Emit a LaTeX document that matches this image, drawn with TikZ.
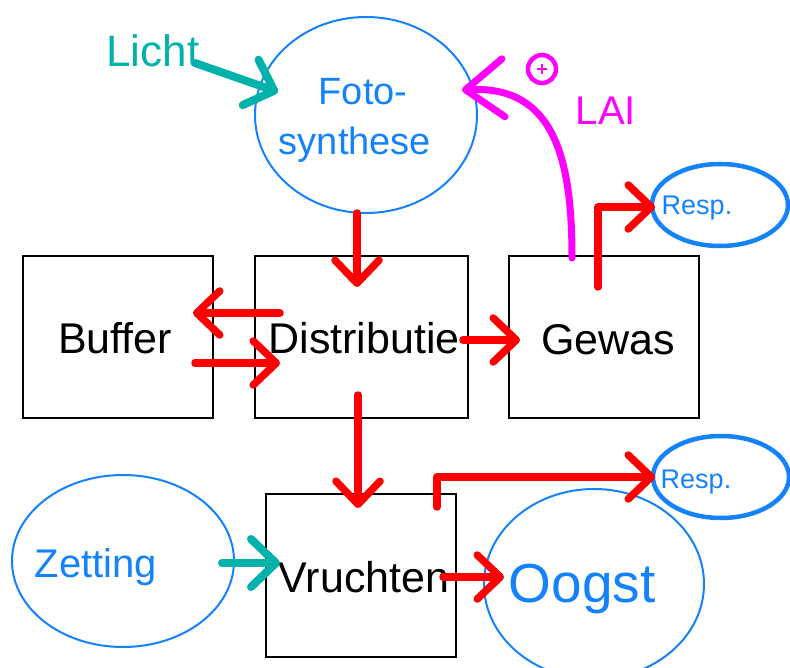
\documentclass[tikz,border=0pt]{standalone}
\usepackage{fontspec}
\setmainfont{Liberation Sans}
\usetikzlibrary{arrows.meta,shapes.geometric}
\definecolor{skyblue}{RGB}{20,130,250}
\definecolor{tealc}{RGB}{0,178,170}
\definecolor{flowred}{RGB}{255,0,0}
\definecolor{laic}{RGB}{255,0,255}
\tikzset{
  blk/.style={draw=black, line width=2pt, minimum height=162pt, inner sep=0pt},
  oval/.style={draw=skyblue, ellipse, line width=2pt, inner sep=0pt},
  respoval/.style={oval, line width=4.5pt, minimum width=136pt, minimum height=82pt},
  lbl/.style={anchor=base, inner sep=0pt, font=\fontsize{43}{48}\selectfont},
  bluelbl/.style={lbl, text=skyblue},
  flow/.style={draw=flowred, line width=7.5pt, line cap=round, line join=round,
    -{Straight Barb[length=23pt,width=44pt,line cap=round,line join=round]}},
  tealflow/.style={draw=tealc, line width=8pt, line cap=round, line join=round,
    -{Straight Barb[length=25pt,width=48pt,line cap=round,line join=round]}},
  laiflow/.style={draw=laic, line width=7pt, line cap=round, line join=round,
    -{Straight Barb[length=38pt,width=58pt,line cap=round,line join=round]}},
}
\begin{document}
\begin{tikzpicture}[x=1pt,y=-1pt]
\useasboundingbox (0,0) rectangle (790,668);

% compartments
\node[blk, minimum width=190pt] (buffer) at (118,337) {};
\node[blk, minimum width=213pt] (dist)   at (361.5,337) {};
\node[blk, minimum width=190pt] (gewas)  at (604,337) {};
\node[blk, minimum width=190pt, minimum height=163pt] (vrucht) at (361,575) {};

% process ovals
\node[oval, minimum width=222pt, minimum height=196pt] (foto) at (366,115) {};
\node[oval, minimum width=222pt, minimum height=172pt] (zet)  at (123,561) {};
\node[oval, minimum width=220pt, minimum height=190pt] (oogst) at (594,584) {};
\node[respoval] (resptop) at (720,205) {};
\node[respoval] (resplow) at (721,477) {};

% labels
\node[lbl] (tbuffer) at (115,353) {Buffer};
\node[lbl] (tdist)   at (364,353) {Distributie};
\node[lbl] (tgewas)  at (608,355) {Gewas};
\node[lbl] (tvrucht) at (364,592) {Vruchten};
\node[bluelbl, font=\fontsize{40}{44}\selectfont] (tzet) at (96,577) {Zetting};
\node[bluelbl, font=\fontsize{55}{60}\selectfont] (toogst) at (582,602) {Oogst};
\node[bluelbl, font=\fontsize{38}{42}\selectfont] (tfoto1) at (363,105) {Foto-};
\node[bluelbl, font=\fontsize{38}{42}\selectfont] (tfoto2) at (355,155) {synthese};
\node[bluelbl, font=\fontsize{27}{30}\selectfont] (tresp1) at (697,215) {Resp.};
\node[bluelbl, font=\fontsize{27}{30}\selectfont] (tresp2) at (696,488) {Resp.};
\node[lbl, text=tealc, font=\fontsize{44}{48}\selectfont] (licht) at (153,67) {Licht};
\node[lbl, text=laic, font=\fontsize{40}{44}\selectfont] (lai) at (606,125) {LAI};

% positive influence marker
\node[circle, draw=laic, line width=4.5pt, minimum size=28pt, inner sep=0pt] (plus) at (542,69) {};
\draw[laic, line width=1.5pt] ([xshift=-5pt]plus.center) -- ([xshift=5pt]plus.center)
  ([yshift=-5pt]plus.center) -- ([yshift=5pt]plus.center);

% connector end points
\coordinate (lichtS) at (195,63);
\coordinate (lichtT) at (278,92);
\coordinate (zetS) at (222,563);
\coordinate (zetT) at (280,563);
\coordinate (fotoS) at (357,213);
\coordinate (distIn) at (357,287);
\coordinate (distL) at (280,313);
\coordinate (bufR) at (193,313);
\coordinate (bufS) at (195,363);
\coordinate (distR) at (280,363);
\coordinate (distE) at (463,340);
\coordinate (gewasW) at (520,340);
\coordinate (distS) at (358,395);
\coordinate (vruchtN) at (358,508);
\coordinate (vruchtE) at (443,577);
\coordinate (oogstW) at (504,577);
\coordinate (vruchtR) at (437,507);
\coordinate (respLowW) at (655,477);
\coordinate (gewasN) at (598,287);
\coordinate (respTopW) at (655,207);
\coordinate (laiS) at (572,258);
\coordinate (fotoE) at (462,90);

% light and fruit set inputs
\draw[tealflow] (lichtS) -- (lichtT);
\draw[tealflow] (zetS) -- (zetT);

% assimilate flows
\draw[flow] (fotoS) -- (distIn);
\draw[flow] (distL) -- (bufR);
\draw[flow] (bufS) -- (distR);
\draw[flow] (distE) -- (gewasW);
\draw[flow] (distS) -- (vruchtN);
\draw[flow] (vruchtE) -- (oogstW);
\draw[flow] (vruchtR) |- (respLowW);
\draw[flow] (gewasN) |- (respTopW);

% leaf area feedback
\draw[laiflow] (laiS) .. controls (572,160) and (555,85) .. (fotoE);
\end{tikzpicture}
\end{document}
